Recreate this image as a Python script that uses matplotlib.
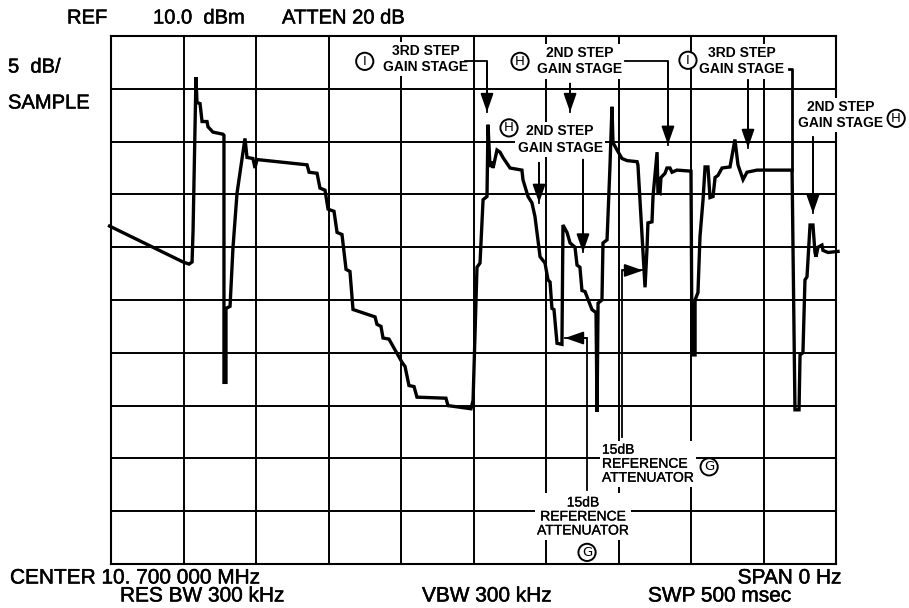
import numpy as np
import matplotlib.pyplot as plt
import matplotlib.patheffects as pe

# spectrum analyzer trace: sweep time (ms) vs level (dBm)
sweep_ms = [-1.0, 49.7, 53.8, 55.9, 56.6, 58.6, 59.3, 61.4, 62.8, 66.2,
            66.9, 70.3, 77.2, 77.9, 77.9, 79.3, 79.3, 82.1, 84.1, 86.9,
            92.4, 93.8, 97.9, 99.3, 100.7, 135.2, 136.6, 142.1, 144.1, 147.6,
            149.7, 153.8, 155.9, 159.3, 162.1, 164.8, 166.9, 182.1, 183.4, 186.2,
            187.6, 191.7, 200.7, 202.8, 205.5, 209.0, 211.0, 231.0, 232.4, 248.3,
            249.7, 252.4, 254.5, 256.6, 259.3, 260.0, 261.4, 262.8, 263.5, 266.2,
            268.3, 270.3, 275.2, 283.4, 284.1, 287.6, 290.3, 292.4, 295.9, 299.3,
            301.4, 302.8, 304.1, 305.5, 307.6, 311.0, 311.7, 314.5, 316.6, 320.0,
            321.4, 323.4, 324.8, 326.9, 331.7, 334.5, 335.2, 335.9, 338.6, 339.3,
            342.1, 344.1, 345.5, 346.2, 349.0, 352.4, 355.9, 362.8, 363.4, 368.3,
            369.7, 370.3, 373.1, 373.8, 376.6, 377.2, 378.6, 379.3, 382.1, 383.4,
            385.5, 386.9, 390.3, 400.0, 400.7, 402.8, 402.8, 404.8, 406.2, 408.3,
            409.7, 411.7, 413.1, 415.2, 416.6, 418.6, 421.4, 426.9, 430.3, 432.4,
            435.9, 438.6, 445.5, 469.7, 471.7, 474.5, 475.2, 477.2, 478.6, 480.0,
            482.1, 484.1, 485.5, 486.2, 487.6, 490.3, 491.0, 494.5, 501.4]
level_dbm = [-8.0, -11.4, -11.6, -11.4, -8.4, 6.1, 3.7, 3.6, 1.9, 1.9,
             1.4, 0.9, 0.7, 0.6, -22.8, -22.8, -15.8, -15.6, -10.1, -4.9,
             0.3, -1.5, -1.6, -2.5, -1.7, -2.2, -2.9, -3.0, -4.4, -4.6,
             -6.4, -6.6, -8.6, -8.8, -12.1, -12.3, -15.9, -16.6, -17.3, -17.5,
             -18.6, -18.7, -20.9, -21.3, -23.1, -23.2, -24.2, -24.3, -25.0, -25.3,
             -24.5, -11.9, -11.5, -5.5, -5.2, 1.6, -2.4, -1.9, -2.5, -0.8,
             -1.0, -1.5, -2.5, -2.7, -3.6, -5.2, -5.8, -7.1, -10.9, -11.5,
             -13.1, -13.3, -15.8, -15.9, -19.1, -19.2, -7.9, -8.6, -9.6, -10.0,
             -11.7, -11.9, -14.1, -14.2, -15.9, -16.2, -25.6, -15.3, -15.0, -9.6,
             -9.3, -2.4, 3.3, -0.1, -0.8, -1.6, -1.8, -1.9, -2.2, -13.8,
             -10.0, -7.7, -7.6, -5.2, -1.0, -4.8, -4.9, -3.4, -3.0, -2.5,
             -2.5, -2.9, -2.7, -2.8, -20.2, -20.2, -15.0, -14.3, -9.0, -5.5,
             -2.4, -2.4, -5.3, -5.2, -3.4, -3.2, -2.5, -2.4, 0.2, -2.2,
             -3.6, -2.9, -2.7, -2.7, -25.4, -25.4, -20.2, -20.0, -13.1, -12.8,
             -7.9, -7.9, -10.5, -10.9, -10.0, -9.8, -10.3, -10.5, -10.4]

REF_DBM = 10
DB_PER_DIV = 5
SWEEP = 500

W, H = 909, 608
fig = plt.figure(figsize=(W / 100, H / 100), dpi=100)
ax = fig.add_axes([111 / W, 1 - 564 / H, 725 / W, 528 / H])

ax.set_xlim(0, SWEEP)
ax.set_ylim(REF_DBM - 10 * DB_PER_DIV, REF_DBM)
ax.set_xticks(np.arange(0, SWEEP + 1, SWEEP / 10))
ax.set_yticks(np.arange(REF_DBM - 10 * DB_PER_DIV, REF_DBM + 1, DB_PER_DIV))
ax.tick_params(length=0, labelbottom=False, labelleft=False)
ax.grid(True, color='black', lw=1.4)
ax.set_axisbelow(True)
for s in ax.spines.values():
    s.set_linewidth(1.5)

ax.plot(sweep_ms, level_dbm, color='black', lw=2.4, zorder=5, clip_on=False,
        solid_joinstyle='miter')

# annotation styles
lab = dict(family='Liberation Sans', fontweight='bold', fontsize=10,
           ha='center', va='center', linespacing=1.2, zorder=3,
           bbox=dict(fc='white', ec='none', pad=1.5))
att = dict(family='Liberation Sans', fontsize=10, va='center', linespacing=1.0,
           zorder=3, bbox=dict(fc='white', ec='none', pad=1.5),
           path_effects=[pe.withStroke(linewidth=0.2, foreground='black')])
arrow = dict(arrowstyle='-|>,head_length=0.8,head_width=0.28', color='black',
             lw=1.3, shrinkA=0, shrinkB=0, mutation_scale=14)


def circ(x, y, letter):
    ax.text(x, y, letter, family='DejaVu Sans', fontsize=9.5, ha='center',
            va='center', zorder=4, clip_on=False,
            bbox=dict(boxstyle='circle,pad=0.16', fc='white', ec='black', lw=1.4))


def leader(xs, ys):
    ax.plot(xs, ys, color='black', lw=1.3, zorder=4, clip_on=False)
    ax.annotate('', xy=(xs[-1], ys[-1]), xytext=(xs[-2], ys[-2]),
                arrowprops=arrow, zorder=4, annotation_clip=False)


# 3rd step gain stage (left)
ax.text(217, 7.8, '3RD STEP\nGAIN STAGE', **lab)
circ(175, 7.6, 'I')
leader([244.1, 259.3, 259.3], [7.6, 7.6, 2.8])

# 2nd step gain stage (top middle)
ax.text(323.4, 7.6, '2ND STEP\nGAIN STAGE', **lab)
circ(282.1, 7.6, 'H')
leader([316.6, 316.6], [5.5, 2.8])
leader([354.5, 384.1, 384.1], [7.6, 7.6, -0.3])

# 3rd step gain stage (right)
ax.text(435.2, 7.6, '3RD STEP\nGAIN STAGE', **lab)
circ(397.9, 7.7, 'I')
leader([439.3, 439.3], [5.8, -0.6])
ax.plot([467.5, 469.7, 469.7], [6.9, 6.9, -2.7], color='black', lw=2.0,
        zorder=4)

# 2nd step gain stage (outside right)
ax.text(503.4, 2.5, '2ND STEP\nGAIN STAGE', **lab)
circ(541.5, 2.2, 'H')
leader([484.1, 484.1], [0.4, -6.8])

# 2nd step gain stage (middle)
ax.text(309.7, 0.2, '2ND STEP\nGAIN STAGE', **lab)
circ(274.5, 1.3, 'H')
leader([295.2, 295.2], [-2.0, -5.8])
leader([325.5, 325.5], [-1.7, -10.5])

# reference attenuator, lower
ax.text(325.5, -35.5, '15dB\nREFERENCE\nATTENUATOR', ha='center',
        multialignment='center', **att)
circ(328.3, -38.9, 'G')
leader([328.3, 328.3, 313.1], [-33.0, -18.6, -18.6])

# reference attenuator, upper
ax.text(338.6, -30.5, '15dB\nREFERENCE\nATTENUATOR', ha='left',
        multialignment='left', **att)
circ(412.5, -30.8, 'G')
leader([352.4, 352.4, 366.9], [-28.0, -12.2, -12.2])

# screen annotations
thick = [pe.withStroke(linewidth=0.35, foreground='black')]
hdr = dict(family='Liberation Sans', fontsize=14.5, va='center',
           path_effects=thick)
fig.text(67 / W, 1 - 18 / H, 'REF', **hdr)
fig.text(153 / W, 1 - 18 / H, '10.0  dBm', **hdr)
fig.text(282 / W, 1 - 18 / H, 'ATTEN 20 dB', **hdr)
fig.text(8 / W, 1 - 67 / H, '5  dB/', **hdr)
fig.text(8 / W, 1 - 103 / H, 'SAMPLE', **hdr)

ftr = dict(family='Liberation Sans', fontsize=15, va='center',
           path_effects=thick)
fig.text(10 / W, 1 - 578 / H, 'CENTER 10. 700 000 MHz', **ftr)
fig.text(120 / W, 1 - 596 / H, 'RES BW 300 kHz', **ftr)
fig.text(422 / W, 1 - 596 / H, 'VBW 300 kHz', **ftr)
fig.text(842 / W, 1 - 578 / H, 'SPAN 0 Hz', ha='right', **ftr)
fig.text(648 / W, 1 - 596 / H, 'SWP 500 msec', **ftr)

fig.savefig('out.png', dpi=100)
